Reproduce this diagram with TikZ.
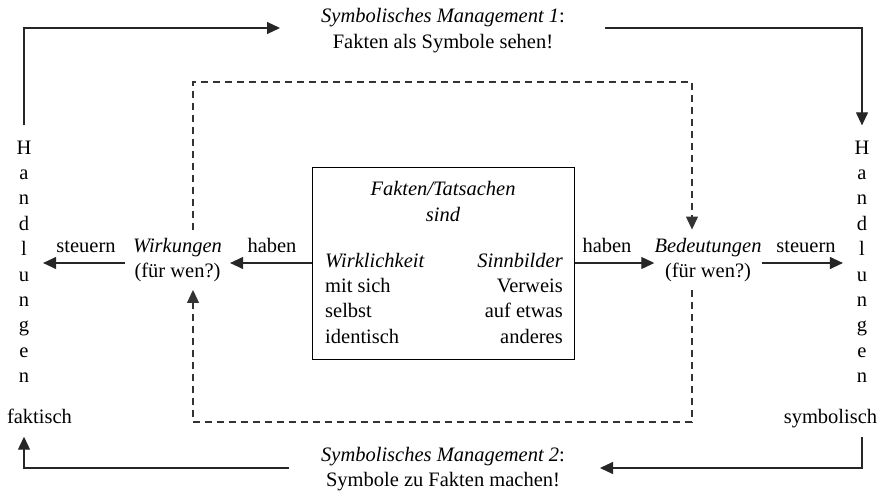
\documentclass[tikz,border=0pt]{standalone}
\usepackage{fontspec}
\setmainfont{Liberation Serif}
\usetikzlibrary{arrows.meta}
\begin{document}
\begin{tikzpicture}[x=1pt,y=-1pt,
  every node/.style={font=\fontsize{20.5}{25.4}\selectfont, inner sep=0pt},
  txt/.style={anchor=base},
  tip/.style={-{Triangle[length=13pt,width=12pt]}},
  arr/.style={line width=1.1pt, draw=black!85, tip},
  dsh/.style={line width=1.1pt, draw=black!80, dash pattern=on 7pt off 5pt, tip},
  vert/.style={anchor=base, align=center, inner xsep=11.5pt, inner ysep=15pt},
  kind/.style={anchor=base, text depth=4.5pt, inner ysep=9pt},
  effect/.style={anchor=base, align=center, inner ysep=8pt}
]
\useasboundingbox (0,0) rectangle (882,497);

% vertical "Handlungen" columns (anchored at the baseline of the last line)
\node[vert] (hl) at (24,382.6) {H\\a\\n\\d\\l\\u\\n\\g\\e\\n};
\node[vert] (hr) at (862,382.6) {H\\a\\n\\d\\l\\u\\n\\g\\e\\n};
\node[kind] (fak) at (39.5,423) {faktisch};
\node[kind] (sym) at (830.5,423) {symbolisch};

% headings of the two outer loops
\node[txt, align=center] (lab1) at (443,48.4) {\textit{Symbolisches Management 1}:\\Fakten als Symbole sehen!};
\node[txt, align=center] (lab2) at (443,486.6) {\textit{Symbolisches Management 2}:\\Symbole zu Fakten machen!};

% central box
\node[draw, line width=1pt, minimum width=262pt, minimum height=192pt] (box) at (443,263) {};
\node[txt, align=center, font=\fontsize{20.5}{26}\selectfont\itshape] (ft) at (443,221) {Fakten/Tatsachen\\sind};
\node[anchor=base west, align=left] (wl) at (325,343.2) {\textit{Wirklichkeit}\\mit sich\\selbst\\identisch};
\node[anchor=base east, align=right] (sr) at (563,343.2) {\textit{Sinnbilder}\\Verweis\\auf etwas\\anderes};

% effects and meanings
\node[effect, inner xsep=8pt] (wirk) at (177.5,277.4) {\textit{Wirkungen}\\(für wen?)};
\node[effect, inner xsep=0pt] (bed) at (708,277.4) {\textit{Bedeutungen}\\(für wen?)};

% arrow labels
\node[txt] (st1) at (86,252) {steuern};
\node[txt] (hab1) at (272,252) {haben};
\node[txt] (hab2) at (607,252) {haben};
\node[txt] (st2) at (806,252) {steuern};

% horizontal arrows through the middle
\draw[arr] (box.west) -- (box.west -| wirk.east);
\draw[arr] (wirk.west |- box.west) -- (hl.east |- box.west);
\draw[arr] (box.east) -- (box.east -| bed.west);
\draw[arr] (bed.east |- box.east) -- (hr.west |- box.east);

% outer loops
\coordinate (t1) at (280,28);
\coordinate (t2) at (605,28);
\coordinate (b1) at (289,468);
\coordinate (b2) at (600,468);
\draw[arr] (hl.north) |- (t1);
\draw[arr] (t2) -| (hr.north);
\draw[arr] (sym.south -| hr.north) |- (b2);
\draw[arr] (b1) -| (fak.south -| hl.north);

% dashed inner loops
\coordinate (dtl) at (193,82);
\coordinate (dtr) at (692,82);
\coordinate (dbl) at (193,422);
\coordinate (dbr) at (692,422);
\draw[dsh] (wirk.north -| dtl) -- (dtl) -- (dtr) -- (bed.north -| dtr);
\draw[dsh] (bed.south -| dbr) -- (dbr) -- (dbl) -- (wirk.south -| dbl);
\end{tikzpicture}
\end{document}
